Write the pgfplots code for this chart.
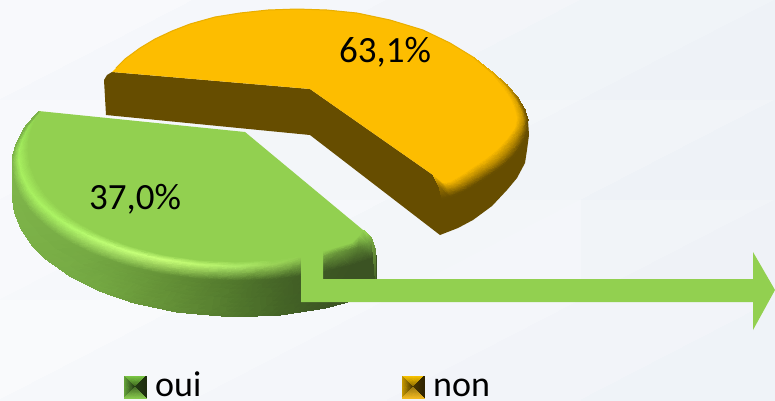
\documentclass[border=0pt]{standalone}
\usepackage{pgfplots}
\pgfplotsset{compat=1.18}
\usepackage{fontspec}
\setmainfont{Carlito}
\definecolor{gflat}{HTML}{92D050}
\definecolor{oflat}{HTML}{FDBD00}
\definecolor{obrown}{HTML}{664D00}
\begin{document}
\begin{tikzpicture}
\begin{axis}[scale only axis,width=775pt,height=400pt,xmin=0,xmax=775,ymin=0,ymax=400,y dir=reverse,axis lines=none,clip=true]
% background
\addplot[surf,shader=interp,mesh/color input=explicit,mesh/rows=2] table[x=x,y=y,meta=c]{
x y c
0 0 rgb255=248,249,252
775 0 rgb255=238,242,247
0 400 rgb255=249,250,252
775 400 rgb255=240,243,248
};
% orange slice: side
\addplot[fill=obrown,draw=none] coordinates {(104,80)(107,75)(112,72)(310,89)(433,175)(473,57)(492,72)(507,85)(518,98)(525,110)(528,120)(529,135)(527,150)(525,163)(517,178)(507,190)(492,206)(473,220)(458,228)(440,235)(310,135)(106,115)} --cycle;
% orange bevel
\addplot[surf,shader=interp,mesh/color input=explicit,mesh/rows=3] table[x=x,y=y,meta=c]{
x y c
473 57 rgb255=253,189,0
492 74 rgb255=253,189,0
503 88 rgb255=253,189,0
511 100 rgb255=253,189,0
515 110 rgb255=253,189,0
517 118 rgb255=253,189,0
515 128 rgb255=253,189,0
508 138 rgb255=253,189,0
498 149 rgb255=253,189,0
487 158 rgb255=253,189,0
475 166 rgb255=253,189,0
462 175 rgb255=253,189,0
450 182 rgb255=253,189,0
443 183 rgb255=253,189,0
433 175 rgb255=253,189,0
473 57 rgb255=245,182,0
492 72 rgb255=240,178,0
506 86 rgb255=232,172,0
516 99 rgb255=215,160,0
522 111 rgb255=200,150,0
524 120 rgb255=190,142,0
522 130 rgb255=180,135,0
516 141 rgb255=178,133,0
507 153 rgb255=178,133,0
495 164 rgb255=178,133,0
482 172 rgb255=178,133,0
468 181 rgb255=178,133,0
455 188 rgb255=178,133,0
447 190 rgb255=170,128,0
439 187 rgb255=150,112,0
473 57 rgb255=240,178,0
492 72 rgb255=225,168,0
507 85 rgb255=190,142,0
518 98 rgb255=150,112,0
525 110 rgb255=115,86,0
528 120 rgb255=102,77,0
527.5 131 rgb255=102,77,0
523 143 rgb255=102,77,0
514 156 rgb255=102,77,0
502 167 rgb255=102,77,0
489 176 rgb255=102,77,0
475 185 rgb255=102,77,0
460 193 rgb255=102,77,0
450 197 rgb255=102,77,0
442 199 rgb255=102,77,0
};
% orange top
\addplot[fill=oflat,draw=none] coordinates {(112,72)(125,59)(140,48)(155,39)(172,31)(190,24)(215,17)(240,13)(268,10)(297,9)(327,10)(357,13)(390,20)(423,30)(450,43)(473,57)(492,74)(503,88)(511,100)(515,110)(517,118)(515,128)(508,138)(498,149)(487,158)(475,166)(462,175)(450,182)(443,183)(433,175)(310,89)} --cycle;
\addplot[draw=oflat!92!black,line width=1pt] coordinates {(116,68)(125,59)(140,48)(155,39)(172,31)(190,24)(215,17)(240,13)(268,10)(297,9)(327,10)(357,13)(390,20)(423,30)(450,43)(473,57)(492,73)};
% green side and bevel
\addplot[surf,shader=interp,mesh/color input=explicit,mesh/rows=4] table[x=x,y=y,meta=c]{
x y c
40.4 111.7 rgb255=146,208,80
34.1 122.9 rgb255=146,208,80
30 134.4 rgb255=146,208,80
28.4 142.2 rgb255=146,208,80
28 150 rgb255=146,208,80
30.1 165.6 rgb255=146,208,80
36.1 180.9 rgb255=146,208,80
45.8 195.6 rgb255=146,208,80
59.5 209.4 rgb255=146,208,80
76.4 222 rgb255=146,208,80
101.9 235.8 rgb255=146,208,80
131.5 247 rgb255=146,208,80
164.2 255.3 rgb255=146,208,80
199 260.3 rgb255=146,208,80
235 262 rgb255=146,208,80
271 260.3 rgb255=146,208,80
305.8 255.3 rgb255=146,208,80
335 248 rgb255=146,208,80
352 243 rgb255=146,208,80
360 235 rgb255=146,208,80
363 230 rgb255=146,208,80
39.4 111.9 rgb255=146,208,80
29 125.2 rgb255=150,222,84
22.2 139 rgb255=158,232,90
19.2 149.2 rgb255=165,238,95
18.4 159.6 rgb255=168,240,96
21.4 174.6 rgb255=168,240,96
28.5 189.3 rgb255=168,240,96
39.3 203.3 rgb255=170,242,98
54.3 216.4 rgb255=172,244,100
72.4 228.3 rgb255=178,248,106
99.1 241.3 rgb255=188,252,114
129.7 252.2 rgb255=196,255,120
163.3 260 rgb255=200,255,120
199 265 rgb255=190,248,112
235.8 266.8 rgb255=175,235,105
272.6 265 rgb255=155,212,88
308.2 260 rgb255=130,183,72
339 252.5 rgb255=105,150,58
359 247.5 rgb255=90,130,50
368 243 rgb255=110,160,62
367 233.5 rgb255=146,208,80
38.4 112 rgb255=123,176,72
25.6 126.7 rgb255=124,178,73
17 142 rgb255=125,179,74
13.1 153.9 rgb255=126,180,74
12 166 rgb255=126,180,74
14.3 182 rgb255=126,180,74
20.8 197.7 rgb255=125,179,73
31.4 212.8 rgb255=124,177,72
46.4 227 rgb255=122,175,71
64.9 240 rgb255=120,173,69
92.7 254.1 rgb255=117,169,67
125 265.6 rgb255=110,160,62
160.7 274.1 rgb255=102,148,56
198.7 279.3 rgb255=92,134,50
238 281 rgb255=81,119,44
277.3 279.3 rgb255=70,102,39
315.3 274.1 rgb255=62,89,36
351 265.6 rgb255=59,83,35
370.9 259 rgb255=59,83,35
376 256 rgb255=59,83,35
372 239 rgb255=120,170,65
38 112 rgb255=123,176,72
25 127 rgb255=124,178,73
16.5 143 rgb255=125,179,74
13 155 rgb255=126,180,74
12 175 rgb255=126,180,74
12 195 rgb255=126,180,74
14.3 212 rgb255=126,180,74
21 228.7 rgb255=125,179,73
31.6 244.7 rgb255=124,177,72
46.7 259.7 rgb255=122,175,71
70.6 276.6 rgb255=119,172,69
99.6 291.1 rgb255=116,168,66
133 302.7 rgb255=108,156,60
177 312.2 rgb255=98,142,54
232 316.9 rgb255=82,121,45
279.6 315.2 rgb255=69,101,38
325.5 308.1 rgb255=61,86,36
360.8 298.5 rgb255=59,83,35
374 293.7 rgb255=59,83,35
376 288 rgb255=59,83,35
375.5 250 rgb255=100,140,55
};
% green top
\addplot[fill=gflat,draw=none] coordinates {(40.4,111.2)(245,132)(363,230)(360,235)(352,243)(335,248)(305.8,255.3)(271,260.3)(235,262)(199,260.3)(164.2,255.3)(131.5,247)(101.9,235.8)(76.4,222)(59.5,209.4)(45.8,195.6)(36.1,180.9)(30.1,165.6)(28,150)(28.4,142.2)(30,134.4)(34.1,122.9)} --cycle;
% arrow
\addplot[fill=gflat,draw=none] coordinates {(301,239)(323,239)(323,279)(753,279)(753,252)(775,290)(753,330)(753,302)(301,302)} --cycle;
% legend keys
\addplot[patch,shader=interp,mesh/color input=explicit] table[x=x,y=y,meta=c]{
x y c
124 376 rgb255=126,205,70
146 376 rgb255=126,205,70
135 387 rgb255=60,100,30
124 376 rgb255=105,170,60
124 398 rgb255=105,170,60
135 387 rgb255=35,60,20
146 376 rgb255=30,45,15
146 398 rgb255=30,45,15
135 387 rgb255=35,60,20
124 398 rgb255=135,200,78
146 398 rgb255=135,200,78
135 387 rgb255=70,110,40
402 376 rgb255=255,200,0
424 376 rgb255=255,200,0
413 387 rgb255=138,106,0
402 376 rgb255=208,160,0
402 398 rgb255=208,160,0
413 387 rgb255=74,56,0
424 376 rgb255=48,36,0
424 398 rgb255=48,36,0
413 387 rgb255=74,56,0
402 398 rgb255=240,184,32
424 398 rgb255=240,184,32
413 387 rgb255=154,120,16
};
% labels
\node[anchor=base,inner sep=0pt,font=\fontsize{37}{40}\selectfont] at (axis cs:385,62) {63,1\%};
\node[anchor=base,inner sep=0pt,font=\fontsize{37}{40}\selectfont] at (axis cs:135,209) {37,0\%};
\node[anchor=base west,inner sep=0pt,font=\fontsize{36}{40}\selectfont] at (axis cs:155,396) {oui};
\node[anchor=base west,inner sep=0pt,font=\fontsize{36}{40}\selectfont] at (axis cs:433,396) {non};
\end{axis}
\end{tikzpicture}
\end{document}
